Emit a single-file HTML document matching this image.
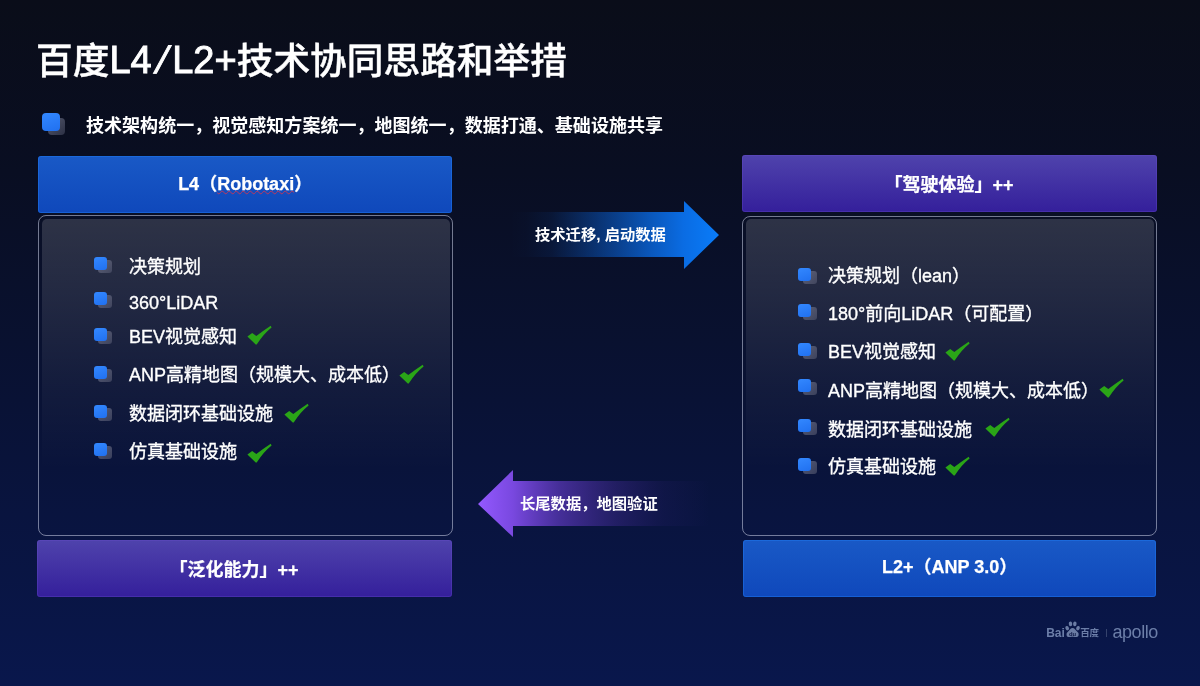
<!DOCTYPE html>
<html lang="zh-CN">
<head>
<meta charset="utf-8">
<title>百度L4/L2+技术协同思路和举措</title>
<style>
*{margin:0;padding:0;box-sizing:border-box}
html,body{width:1200px;height:686px;overflow:hidden;background:#0b1233}
body{position:relative;font-family:"Liberation Sans","Noto Sans CJK SC",sans-serif;color:#fff;
 background:linear-gradient(180deg,#0a0d19 0%,#090e22 25%,#091130 50%,#09143f 75%,#09174c 100%)}
.abs{position:absolute}
.title,.sub,.it,.hd,.arrtxt,.logo{will-change:transform}
.title{left:35.900px;top:34.500px;font-size:36.700px;line-height:52px;font-weight:500;white-space:nowrap;letter-spacing:0;-webkit-text-stroke:.400px #fff}
.title .lat{display:inline-block;position:relative;top:-.700px;font-size:38px;font-weight:400;-webkit-text-stroke:.900px #fff}
.title .sl{display:inline-block;transform:skewX(-15deg);margin:0 5px}
.sub{left:86px;top:113px;font-size:18.050px;line-height:26px;font-weight:700;white-space:nowrap}
.bul{width:23px;height:23px}
.bul i,.bul b{position:absolute;display:block;border-radius:4px}
.bul b{left:6px;top:4.500px;width:17px;height:17.300px;background:linear-gradient(135deg,rgba(115,119,140,.720),rgba(62,66,88,.650))}
.bul i{left:0;top:0;width:17.500px;height:18px;background:linear-gradient(160deg,#3388ff,#2070f0)}
.sb{width:18px;height:18px}
.sb i,.sb b{position:absolute;display:block;border-radius:3px}
.sb b{left:4.500px;top:3px;width:14px;height:13px;background:linear-gradient(135deg,rgba(125,128,150,.65),rgba(80,84,108,.65))}
.sb i{left:0;top:0;width:13.200px;height:13.300px;background:linear-gradient(160deg,#3388ff,#2070f0)}
.hd{height:57px;border-radius:3px;font-size:18px;font-weight:700;text-align:center;line-height:56px;white-space:nowrap;-webkit-text-stroke:.250px #fff}
.blue{background:linear-gradient(180deg,#1959c6 0%,#0f48bb 100%);box-shadow:inset 0 0 0 1px rgba(30,125,245,.450)}
.purple{background:linear-gradient(180deg,#4f43ac 0%,#341f9b 100%);box-shadow:inset 0 0 0 1px rgba(110,80,210,.300)}
.box{border:1.600px solid rgba(195,200,222,.580);border-radius:8px;padding:2.800px}
.box::before{content:"";display:block;width:100%;height:100%;border-radius:5px;
 background:linear-gradient(180deg,rgba(255,255,255,.15) 0%,rgba(255,255,255,.10) 25%,rgba(255,255,255,.04) 55%,rgba(255,255,255,0) 80%)}
.it{font-size:18px;line-height:26px;white-space:nowrap;font-weight:400;-webkit-text-stroke:.350px #fff}
.ck{width:25px;height:21px}
.wavy{text-decoration:underline wavy rgba(225,50,70,.8);text-decoration-thickness:.500px;text-underline-offset:-.300px;text-decoration-skip-ink:none}
.arrtxt{font-size:15.300px;font-weight:700;line-height:20px;white-space:nowrap}
.logo{color:#6c7ea8;white-space:nowrap}
</style>
</head>
<body>

<div class="abs title">百度<span class="lat">L4<span class="sl">/</span>L2+</span>技术协同思路和举措</div>

<div class="abs bul" style="left:42.200px;top:113.400px"><b></b><i></i></div>
<div class="abs sub">技术架构统一，视觉感知方案统一，地图统一，数据打通、基础设施共享</div>

<!-- left column -->
<div class="abs hd blue" style="left:38.400px;top:155.600px;width:414.300px;height:56.800px">L4（<span class="wavy">Robotaxi</span>）</div>
<div class="abs box" style="left:38px;top:215.300px;width:415.300px;height:321px"></div>
<div class="abs hd purple" style="left:37px;top:539.600px;width:414.700px;height:57px"><span style="position:relative;left:-10.300px;top:1.800px">「泛化能力」++</span></div>

<div class="abs sb" style="left:93.700px;top:257px"><b></b><i></i></div>
<div class="abs it" style="left:128.500px;top:254px">决策规划</div>
<div class="abs sb" style="left:93.700px;top:292px"><b></b><i></i></div>
<div class="abs it" style="left:128.500px;top:289.800px">360°LiDAR</div>
<div class="abs sb" style="left:93.700px;top:327.800px"><b></b><i></i></div>
<div class="abs it" style="left:128.500px;top:323.800px">BEV视觉感知</div>
<div class="abs sb" style="left:93.700px;top:366px"><b></b><i></i></div>
<div class="abs it" style="left:128.500px;top:362.200px">ANP高精地图（规模大、成本低）</div>
<div class="abs sb" style="left:93.700px;top:404.700px"><b></b><i></i></div>
<div class="abs it" style="left:128.500px;top:400.500px">数据闭环基础设施</div>
<div class="abs sb" style="left:93.700px;top:442.700px"><b></b><i></i></div>
<div class="abs it" style="left:128.500px;top:438.800px">仿真基础设施</div>

<!-- right column -->
<div class="abs hd purple" style="left:742.200px;top:155.300px;width:415px;height:57.100px"><span style="position:relative;left:-.500px;top:2.200px">「驾驶体验」++</span></div>
<div class="abs box" style="left:741.800px;top:215.500px;width:415.700px;height:320.500px"></div>
<div class="abs hd blue" style="left:742.800px;top:539.600px;width:413.400px;height:56.800px"><span style="position:relative;left:0;top:-1.200px">L2+（ANP 3.0）</span></div>

<div class="abs sb" style="left:798px;top:268px"><b></b><i></i></div>
<div class="abs it" style="left:828px;top:262.800px">决策规划（lean）</div>
<div class="abs sb" style="left:798px;top:304px"><b></b><i></i></div>
<div class="abs it" style="left:828px;top:300.700px">180°前向LiDAR（可配置）</div>
<div class="abs sb" style="left:798px;top:343px"><b></b><i></i></div>
<div class="abs it" style="left:828px;top:339.100px">BEV视觉感知</div>
<div class="abs sb" style="left:798px;top:379px"><b></b><i></i></div>
<div class="abs it" style="left:828px;top:377.500px">ANP高精地图（规模大、成本低）</div>
<div class="abs sb" style="left:798px;top:418.800px"><b></b><i></i></div>
<div class="abs it" style="left:828px;top:416.700px">数据闭环基础设施</div>
<div class="abs sb" style="left:798px;top:457.500px"><b></b><i></i></div>
<div class="abs it" style="left:828px;top:454.300px">仿真基础设施</div>

<!-- checks -->
<svg class="abs ck" style="left:247px;top:325.300px" viewBox="0 0 25 21"><path d="M0.400 11.600 L5.200 8 L9.300 10.900 Q16.200 5.700 23.700 0.700 L24.600 2.500 Q16.600 8.800 9.700 19.500 L8.700 19.500 Z" fill="#2aa517"/></svg>
<svg class="abs ck" style="left:399.100px;top:363.600px" viewBox="0 0 25 21"><path d="M0.400 11.600 L5.200 8 L9.300 10.900 Q16.200 5.700 23.700 0.700 L24.600 2.500 Q16.600 8.800 9.700 19.500 L8.700 19.500 Z" fill="#2aa517"/></svg>
<svg class="abs ck" style="left:284.100px;top:402.800px" viewBox="0 0 25 21"><path d="M0.400 11.600 L5.200 8 L9.300 10.900 Q16.200 5.700 23.700 0.700 L24.600 2.500 Q16.600 8.800 9.700 19.500 L8.700 19.500 Z" fill="#2aa517"/></svg>
<svg class="abs ck" style="left:247.200px;top:442.500px" viewBox="0 0 25 21"><path d="M0.400 11.600 L5.200 8 L9.300 10.900 Q16.200 5.700 23.700 0.700 L24.600 2.500 Q16.600 8.800 9.700 19.500 L8.700 19.500 Z" fill="#2aa517"/></svg>
<svg class="abs ck" style="left:945.300px;top:340.700px" viewBox="0 0 25 21"><path d="M0.400 11.600 L5.200 8 L9.300 10.900 Q16.200 5.700 23.700 0.700 L24.600 2.500 Q16.600 8.800 9.700 19.500 L8.700 19.500 Z" fill="#2aa517"/></svg>
<svg class="abs ck" style="left:1098.800px;top:377.500px" viewBox="0 0 25 21"><path d="M0.400 11.600 L5.200 8 L9.300 10.900 Q16.200 5.700 23.700 0.700 L24.600 2.500 Q16.600 8.800 9.700 19.500 L8.700 19.500 Z" fill="#2aa517"/></svg>
<svg class="abs ck" style="left:985.300px;top:416.500px" viewBox="0 0 25 21"><path d="M0.400 11.600 L5.200 8 L9.300 10.900 Q16.200 5.700 23.700 0.700 L24.600 2.500 Q16.600 8.800 9.700 19.500 L8.700 19.500 Z" fill="#2aa517"/></svg>
<svg class="abs ck" style="left:945.300px;top:455.500px" viewBox="0 0 25 21"><path d="M0.400 11.600 L5.200 8 L9.300 10.900 Q16.200 5.700 23.700 0.700 L24.600 2.500 Q16.600 8.800 9.700 19.500 L8.700 19.500 Z" fill="#2aa517"/></svg>

<!-- arrows -->
<svg class="abs" style="left:500px;top:196px" width="230" height="80" viewBox="0 0 230 80">
 <defs><linearGradient id="ga" x1="0" y1="0" x2="1" y2="0">
  <stop offset="0" stop-color="#0a5fd0" stop-opacity="0"/>
  <stop offset=".08" stop-color="#0a5fd0" stop-opacity=".02"/>
  <stop offset=".2" stop-color="#0a5fd0" stop-opacity=".1"/>
  <stop offset=".43" stop-color="#0a62d6" stop-opacity=".45"/>
  <stop offset=".68" stop-color="#0a68de" stop-opacity=".82"/>
  <stop offset=".83" stop-color="#0a6fe9" stop-opacity=".97"/>
  <stop offset="1" stop-color="#0a7cf9" stop-opacity="1"/></linearGradient></defs>
 <path d="M10 16 H184 V5 L219 39 L184 73 V61 H10 Z" fill="url(#ga)"/>
</svg>
<div class="abs arrtxt" style="left:535px;top:225px">技术迁移, 启动数据</div>

<svg class="abs" style="left:470px;top:465px" width="250" height="80" viewBox="0 0 250 80">
 <defs><linearGradient id="gb" x1="0" y1="0" x2="1" y2="0">
  <stop offset="0" stop-color="#9459ff" stop-opacity="1"/>
  <stop offset=".15" stop-color="#7f4be8" stop-opacity=".95"/>
  <stop offset=".35" stop-color="#6a3fd0" stop-opacity=".62"/>
  <stop offset=".6" stop-color="#5a35b8" stop-opacity=".3"/>
  <stop offset=".8" stop-color="#4a2aa0" stop-opacity=".1"/>
  <stop offset="1" stop-color="#4a2aa0" stop-opacity="0"/></linearGradient></defs>
 <path d="M8 39 L43 5 V16 H240 V61 H43 V72 Z" fill="url(#gb)"/>
</svg>
<div class="abs arrtxt" style="left:520px;top:494px">长尾数据，地图验证</div>

<!-- logo -->
<div class="abs logo" style="left:1046px;top:618px;width:120px;height:26px">
 <span class="abs" style="left:.200px;top:7px;font-size:12px;font-weight:700;line-height:16px">Bai</span>
 <svg class="abs" style="left:19px;top:3px" width="15" height="17.500" viewBox="0 0 18 21">
  <g fill="#6b7ca4"><ellipse cx="2.600" cy="8.600" rx="2.100" ry="2.700" transform="rotate(-15 2.600 8.600)"/><ellipse cx="6.600" cy="3.400" rx="2.100" ry="2.900" transform="rotate(-6 6.600 3.400)"/><ellipse cx="11.800" cy="3.400" rx="2.100" ry="2.900" transform="rotate(6 11.800 3.400)"/><ellipse cx="15.600" cy="8.600" rx="2.100" ry="2.700" transform="rotate(15 15.600 8.600)"/>
  <path d="M9.100 8.300c2.300 0 3.100 2.100 4.800 3.800 1.700 1.600 2.900 2.700 2.400 4.900-.6 2.500-3.100 2.500-4.700 2.200-1-.2-1.700-.3-2.500-.3s-1.700.1-2.700.3c-1.700.3-4 .2-4.500-2.200-.4-2.200.9-3.300 2.400-4.900C6 10.400 6.800 8.300 9.100 8.300z"/></g>
  <text x="9.100" y="18" font-size="7" font-weight="700" text-anchor="middle" fill="#0c1644" font-family="Liberation Sans, sans-serif">du</text>
 </svg>
 <span class="abs" style="left:34.300px;top:6.500px;font-size:9.500px;font-weight:700;line-height:16px;letter-spacing:-.300px">百度</span>
 <span class="abs" style="left:59.500px;top:10.500px;width:1px;height:8.500px;background:#35426c"></span>
 <span class="abs" style="left:66.500px;top:1.700px;font-size:18px;line-height:24px;letter-spacing:-.450px;font-weight:400">apollo</span>
</div>

</body>
</html>
